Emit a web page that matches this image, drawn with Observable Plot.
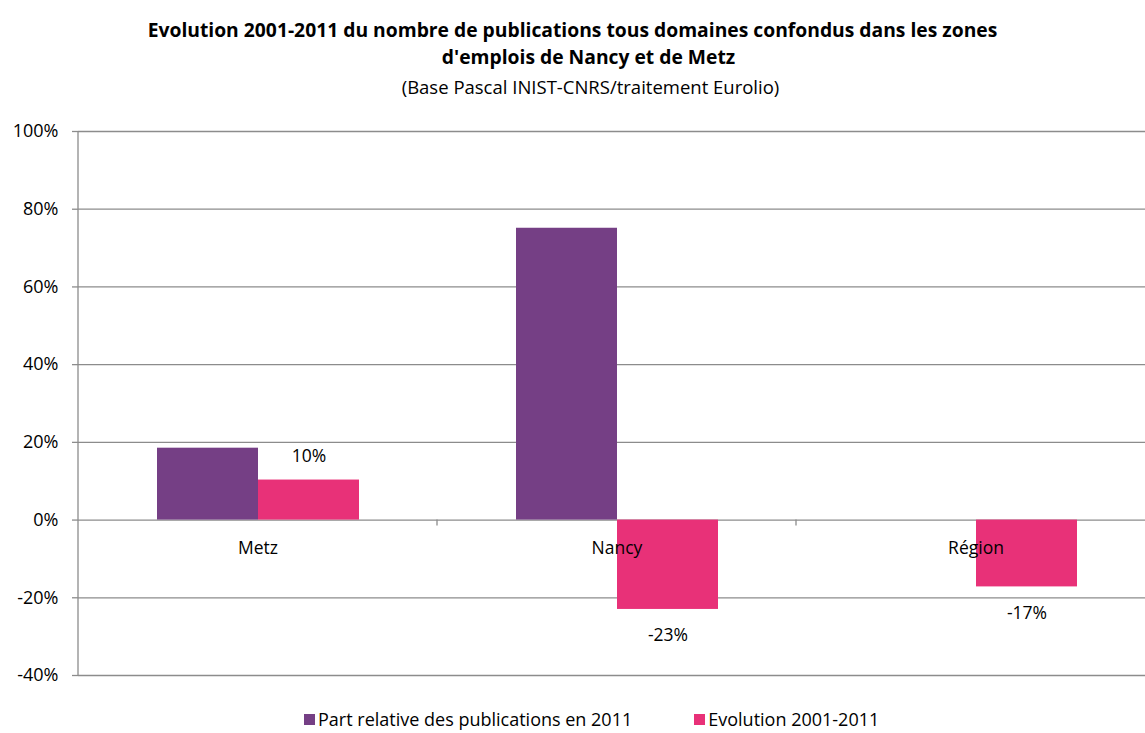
<!DOCTYPE html>
<html><head><meta charset="utf-8">
<script src="https://cdn.jsdelivr.net/npm/d3@7"></script>
<script src="https://cdn.jsdelivr.net/npm/@observablehq/plot@0.6"></script>
<style>
html,body{margin:0;padding:0;background:#fff;overflow:hidden;width:1145px;height:733px;}
body{font-family:"Open Sans",sans-serif;color:#000;position:relative;}
.t1,.t2{position:absolute;width:1145px;text-align:center;font-weight:bold;font-size:19.3px;line-height:27px;}
.t1{left:0;top:16px;}
.t2{left:16px;top:43px;}
#subtitle{position:absolute;left:18px;top:74px;width:1145px;text-align:center;font-size:18.5px;line-height:26px;}
#chart{position:absolute;top:100px;left:0;}
#chart svg{max-width:none !important;}
#legend{position:absolute;top:709px;left:304px;display:flex;font-size:18px;line-height:20px;}
.item{display:flex;align-items:center;}
.sw{width:11px;height:11px;margin-right:3px;}
</style></head>
<body>
<div class="t1">Evolution 2001-2011 du nombre de publications tous domaines confondus dans les zones</div>
<div class="t2">d'emplois de Nancy et de Metz</div>
<div id="subtitle">(Base Pascal INIST-CNRS/traitement Eurolio)</div>
<div id="chart"></div>
<div id="legend"></div>
<script>
const categories = ["Metz", "Nancy", "Région"];
const seriesNames = ["Part relative des publications en 2011", "Evolution 2001-2011"];
const partValues = [0.185, 0.751, null];
const evolValues = [0.103, -0.23, -0.172];
const yTicks = [-0.4, -0.2, 0, 0.2, 0.4, 0.6, 0.8, 1.0];
const colors = ["#753f85", "#e83178"];
const gridColor = "#8c8c8c";

const rows = [];
categories.forEach((c, i) => {
  if (partValues[i] != null) rows.push({cat: c, series: seriesNames[0], value: partValues[i]});
  if (evolValues[i] != null) rows.push({cat: c, series: seriesNames[1], value: evolValues[i]});
});
const evolRows = rows.filter(d => d.series === seriesNames[1]);
const pct = d => Math.round(d * 100) + "%";

const chart = Plot.plot({
  width: 1155,
  height: 590,
  marginLeft: 78,
  marginRight: 0,
  marginTop: 31,
  marginBottom: 15,
  style: {fontFamily: "'Open Sans', sans-serif", fontSize: "18px", color: "#000", background: "transparent", maxWidth: "none"},
  fx: {domain: categories, padding: 0, axis: null, label: null},
  x: {domain: seriesNames, paddingInner: 0, paddingOuter: 0.76, axis: null, label: null},
  y: {domain: [-0.4, 1.0], label: null},
  color: {domain: seriesNames, range: colors},
  marks: [
    Plot.ruleY(yTicks, {stroke: gridColor, strokeWidth: 1.3}),
    Plot.barY(rows, {fx: "cat", x: "series", y: "value", fill: "series"}),
    Plot.text(categories, {fx: d => d, y: () => 0, text: d => d, dy: 28, fill: "#000", fontSize: 17.5}),
    Plot.text(evolRows.filter(d => d.value >= 0), {fx: "cat", x: "series", y: "value", text: d => pct(d.value), dy: -24, fill: "#000", fontSize: 17.5}),
    Plot.text(evolRows.filter(d => d.value < 0), {fx: "cat", x: "series", y: "value", text: d => pct(d.value), dy: 26, fill: "#000", fontSize: 17.5}),
    Plot.axisY({ticks: yTicks, tickFormat: pct, tickSize: 6, tickPadding: 14, stroke: gridColor, strokeWidth: 1.3, fontSize: 18, label: null, fill: "#000"})
  ]
});

const svg = d3.select(chart);
const fxS = chart.scale("fx"), yS = chart.scale("y");
const y0 = yS.apply(0);
const g = svg.append("g").attr("stroke", gridColor).attr("stroke-width", 1.3);
const xLeft = fxS.apply(categories[0]);
g.append("line").attr("x1", xLeft).attr("x2", xLeft).attr("y1", yS.apply(1.0)).attr("y2", yS.apply(-0.4));
categories.slice(1).forEach(c => {
  const x = fxS.apply(c);
  g.append("line").attr("x1", x).attr("x2", x).attr("y1", y0).attr("y2", y0 + 6);
});
document.getElementById("chart").appendChild(chart);

const legend = document.getElementById("legend");
seriesNames.forEach((s, i) => {
  const it = document.createElement("div");
  it.className = "item";
  it.style.marginRight = i === 0 ? "62px" : "0";
  const sw = document.createElement("div");
  sw.className = "sw";
  sw.style.background = colors[i];
  const t = document.createElement("span");
  t.textContent = s;
  it.appendChild(sw); it.appendChild(t);
  legend.appendChild(it);
});
</script>
</body></html>
